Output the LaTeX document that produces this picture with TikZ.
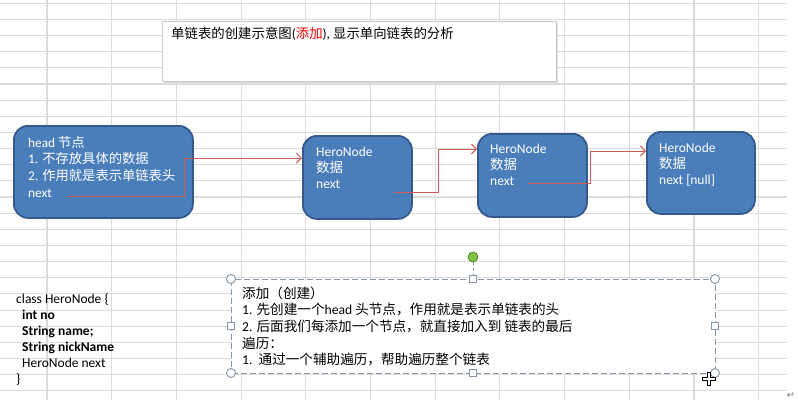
\documentclass[tikz,border=0pt]{standalone}
\usepackage{fontspec}
\setmainfont{Carlito}
\newfontfamily\zhfont{Noto Sans CJK SC}
\newfontfamily\symfont{DejaVu Sans}
\newcommand\zh[1]{{\zhfont #1}}
\usetikzlibrary{arrows.meta}

\definecolor{gridgray}{HTML}{DBDBDB}
\definecolor{nodeblue}{HTML}{4A7EBB}
\definecolor{nodeedge}{HTML}{35598A}
\definecolor{linkred}{HTML}{D25A55}
\definecolor{selgray}{HTML}{8596A8}
\definecolor{knobgreen}{HTML}{7DC242}
\definecolor{titleedge}{HTML}{C8C8C8}

\tikzset{
  gridline/.style={draw=gridgray, line width=1.1pt},
  listbox/.style={draw=nodeedge, fill=nodeblue, line width=1.8pt,
    rounded corners=14pt, inner sep=0pt},
  boxtext/.style={text=white, inner sep=0pt, align=left},
  plaintext/.style={inner sep=0pt, align=left},
  link/.style={draw=linkred, line width=1pt,
    -{Straight Barb[length=5pt,width=10pt,line width=1pt]}},
  handle/.style={draw=selgray, fill=white, line width=0.9pt},
}

\begin{document}
\begin{tikzpicture}[x=1pt,y=-1pt]
\useasboundingbox (0,0) rectangle (798,402);
\fill[white] (0,0) rectangle (798,402);

% spreadsheet grid
\foreach \k in {0,...,11}
  \draw[gridline] ({47+64.7*\k},0) -- ({47+64.7*\k},400);
\foreach \k in {0,...,24}
  \draw[gridline] (0,{3.2+16.15*\k}) -- (787,{3.2+16.15*\k});

% title box
\fill[black!12] (163.5,22.5) rectangle (557.5,82.5);
\node[draw=titleedge, fill=white, line width=1.1pt, inner sep=0pt,
      minimum width=394pt, minimum height=60pt, anchor=north west] (title) at (162,21) {};
\node[plaintext, anchor=base west, font=\fontsize{13.4}{16}\selectfont] (titletext) at (171,38)
  {\zh{单链表的创建示意图}(\textcolor{red}{\zh{添加}}), \zh{显示单向链表的分析}};

% list nodes
\node[listbox, minimum width=179pt, minimum height=92pt, anchor=north west] (head) at (13,125) {};
\node[listbox, minimum width=109pt, minimum height=83pt, anchor=north west] (n2) at (302,135) {};
\node[listbox, minimum width=109pt, minimum height=83pt, anchor=north west] (n3) at (477,133) {};
\node[listbox, minimum width=108pt, minimum height=82pt, anchor=north west] (n4) at (646,131) {};

\node[boxtext, anchor=base west, font=\fontsize{13.3}{16.7}\selectfont] (headtext) at (28,147)
  {\begin{tabular}[t]{@{}l@{}}
    head \zh{节点}\\
    1. \zh{不存放具体的数据}\\
    2. \zh{作用就是表示单链表头}\\
    next
  \end{tabular}};
\node[boxtext, anchor=base west, font=\fontsize{13.5}{15.8}\selectfont] (n2text) at (316,156.5)
  {\begin{tabular}[t]{@{}l@{}}HeroNode\\ \zh{数据}\\ next\end{tabular}};
\node[boxtext, anchor=base west, font=\fontsize{13.5}{15.8}\selectfont] (n3text) at (490,153.5)
  {\begin{tabular}[t]{@{}l@{}}HeroNode\\ \zh{数据}\\ next\end{tabular}};
\node[boxtext, anchor=base west, font=\fontsize{13.5}{15.8}\selectfont] (n4text) at (659,152.5)
  {\begin{tabular}[t]{@{}l@{}}HeroNode\\ \zh{数据}\\ next [null]\end{tabular}};

% next pointers
\coordinate (hs) at (67,196);   \coordinate (hk) at (184,158);
\coordinate (s2) at (394,192);  \coordinate (k2) at (438,149);
\coordinate (s3) at (528,183);  \coordinate (k3) at (590,151);
\draw[link] (hs) -| (hk) -- (hk -| n2.west);
\draw[link] (s2) -| (k2) -- (k2 -| n3.west);
\draw[link] (s3) -| (k3) -- (k3 -| n4.west);

% class definition
\node[plaintext, anchor=base west, font=\fontsize{13.5}{16}\selectfont] (cls) at (16,303)
  {\begin{tabular}[t]{@{}l@{}}
    class HeroNode \{\\
    \hspace*{6pt}\textbf{int no}\\
    \hspace*{6pt}\textbf{String name;}\\
    \hspace*{6pt}\textbf{String nickName}\\
    \hspace*{6pt}HeroNode next\\
    \}
  \end{tabular}};

% selected text box
\node[draw=selgray, fill=white, dash pattern=on 6pt off 3pt, line width=1.1pt, inner sep=0pt,
      minimum width=484pt, minimum height=94pt, anchor=north west] (note) at (231,279) {};
\node[plaintext, anchor=base west, font=\fontsize{13.6}{16.7}\selectfont] (notetext) at (242,298)
  {\begin{tabular}[t]{@{}l@{}}
    \zh{添加（创建）}\\
    1. \zh{先创建一个}head \zh{头节点，作用就是表示单链表的头}\\
    2. \zh{后面我们每添加一个节点，就直接加入到} \zh{链表的最后}\\
    \zh{遍历：}\\
    1.\ \ \zh{通过一个辅助遍历，帮助遍历整个链表}
  \end{tabular}};

% selection handles
\draw[selgray, dashed, line width=0.9pt] (473,262) -- (473,275.5);
\draw[draw=knobgreen!70!black, fill=knobgreen, line width=0.8pt] (473,257) circle[radius=5pt];
\foreach \p in {(231,279),(715,279),(231,373),(715,373)}
  \draw[handle] \p circle[radius=4.5pt];
\foreach \p in {(473,279),(473,373),(231,326),(715,326)}
  \draw[handle] \p ++(-3.5,-3.5) rectangle ++(7,7);

% move cursor
\begin{scope}[shift={(709,379)}]
  \draw[black, line width=4.4pt] (-7,0) -- (7,0) (0,-7) -- (0,7);
  \draw[white, line width=2.2pt] (-5.8,0) -- (5.8,0) (0,-5.8) -- (0,5.8);
\end{scope}

\node[text=gray, inner sep=0pt, font=\symfont\fontsize{10}{10}\selectfont] (ret) at (791,395) {↵};
\end{tikzpicture}
\end{document}
